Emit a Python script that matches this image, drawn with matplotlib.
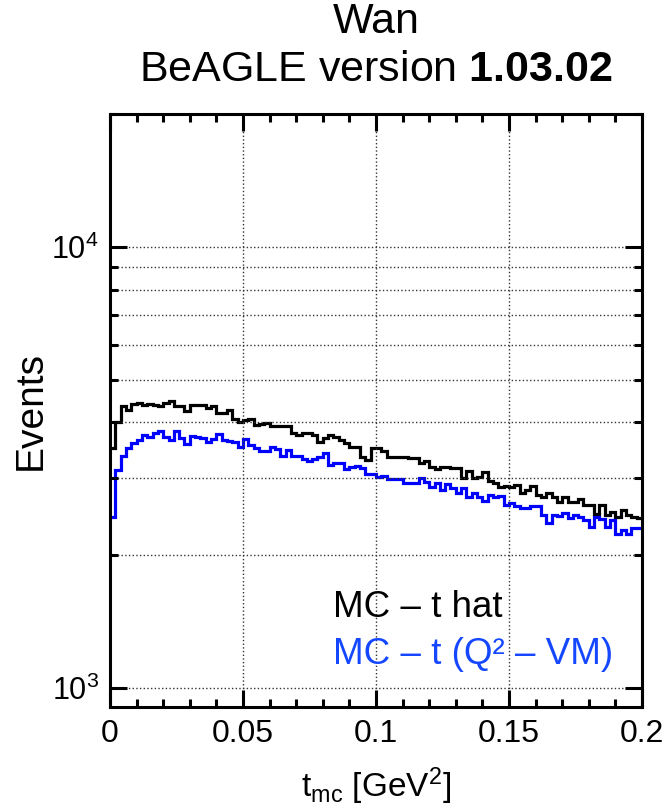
import numpy as np
import matplotlib
matplotlib.use("Agg")
import matplotlib.pyplot as plt
from matplotlib.ticker import FixedLocator, MultipleLocator, FuncFormatter, NullFormatter

plt.rcParams['font.family'] = ['Liberation Sans', 'DejaVu Sans']
plt.rcParams['mathtext.fontset'] = 'custom'
plt.rcParams['mathtext.rm'] = 'Liberation Sans'
plt.rcParams['mathtext.it'] = 'Liberation Sans:italic'
plt.rcParams['mathtext.bf'] = 'Liberation Sans:bold'

# histogram binning: 100 bins in t from 0 to 0.2 GeV^2
t_min, t_max, n_bins = 0.0, 0.2, 100

# MC - t hat (black)
t_hat = [3494, 4018, 4360, 4270, 4406, 4436, 4383, 4406, 4383, 4360,
         4436, 4483, 4360, 4360, 4255, 4383, 4383, 4383, 4307, 4360,
         4210, 4196, 4270, 4067, 4018, 4053, 4067, 3949, 3962, 3982,
         3928, 3928, 3928, 3928, 3781, 3748, 3781, 3781, 3748, 3619,
         3683, 3748, 3715, 3651, 3588, 3525, 3525, 3347, 3289, 3494,
         3494, 3453, 3334, 3347, 3347, 3347, 3317, 3317, 3243, 3271,
         3165, 3132, 3165, 3165, 3148, 3148, 2988, 3110, 2988, 3004,
         3094, 2952, 2911, 2861, 2871, 2851, 2886, 2763, 2812, 2871,
         2739, 2715, 2763, 2715, 2645, 2706, 2645, 2645, 2678, 2600,
         2600, 2480, 2600, 2467, 2511, 2438, 2532, 2467, 2438, 2425]

# MC - t (Q^2 - VM) (blue)
t_q2vm = [2446, 3121, 3358, 3494, 3588, 3651, 3748, 3715, 3781, 3833,
          3715, 3651, 3833, 3683, 3575, 3728, 3702, 3683, 3619, 3664,
          3768, 3651, 3638, 3619, 3525, 3664, 3556, 3494, 3453, 3453,
          3513, 3477, 3358, 3465, 3358, 3358, 3300, 3277, 3300, 3334,
          3417, 3204, 3232, 3243, 3132, 3176, 3187, 3148, 3056, 3056,
          3014, 3025, 2972, 2972, 2972, 2911, 2911, 2911, 2988, 2937,
          2861, 2911, 2812, 2901, 2836, 2763, 2836, 2706, 2763, 2706,
          2659, 2739, 2715, 2725, 2600, 2631, 2586, 2555, 2555, 2586,
          2586, 2467, 2362, 2467, 2455, 2489, 2425, 2467, 2438, 2404,
          2322, 2438, 2413, 2322, 2404, 2234, 2282, 2234, 2301, 2301]

y_major = [1e3, 1e4]
y_minor = [2e3, 3e3, 4e3, 5e3, 6e3, 7e3, 8e3, 9e3, 2e4]

edges = np.linspace(t_min, t_max, n_bins + 1)

fig = plt.figure(figsize=(6.66, 8.08), dpi=100)
ax = fig.add_axes([110 / 666, 101 / 808, 532 / 666, 593 / 808])

ax.stairs(t_hat, edges, baseline=None, color='black', linewidth=2.3)
ax.stairs(t_q2vm, edges, baseline=None, color='#0000ff', linewidth=2.3)

ax.set_yscale('log')
ax.set_xlim(t_min, t_max)
ax.set_ylim(906, 20000)

ax.xaxis.set_major_locator(MultipleLocator(0.05))
ax.xaxis.set_minor_locator(MultipleLocator(0.01))
ax.xaxis.set_major_formatter(FuncFormatter(lambda v, p: ('%g' % round(v, 3))))
ax.yaxis.set_major_locator(FixedLocator(y_major))
ax.yaxis.set_minor_locator(FixedLocator(y_minor))
ax.yaxis.set_major_formatter(FuncFormatter(lambda v, p: r'$10^{%d}$' % round(np.log10(v))))
ax.yaxis.set_minor_formatter(NullFormatter())

ax.tick_params(which='both', direction='in', top=True, right=True, width=2.2, labelsize=22)
ax.tick_params(axis='x', labelsize=23)
ax.tick_params(which='major', length=12)
ax.tick_params(which='minor', length=6)
ax.tick_params(axis='x', which='major', pad=9)
ax.tick_params(axis='y', which='major', pad=8)
for s in ax.spines.values():
    s.set_linewidth(2.2)

ax.grid(True, axis='x', which='major', linestyle=':', color='#333333', linewidth=1.0)
ax.grid(True, axis='y', which='both', linestyle=':', color='#333333', linewidth=1.0)

fig.text(376 / 666, 1 - 786 / 808, r't$_{\rm mc}$ [GeV$^{2}$]', fontsize=24,
         ha='center', va='center')
fig.text(31 / 666, 1 - 410 / 808, 'Events', fontsize=28, rotation=90,
         ha='center', va='center')

ax.text(0.419, 0.167, 'MC \u2013 t hat', transform=ax.transAxes, fontsize=26.5,
        color='black', va='center', ha='left')
ax.text(0.419, 0.088, 'MC \u2013 t (Q\u00b2 \u2013 VM)', transform=ax.transAxes, fontsize=26.5,
        color='#1447ff', va='center', ha='left')

fig.text(376 / 666, 1 - 22 / 808, 'Wan', fontsize=31, ha='center', va='center')
fig.text(376 / 666, 1 - 70 / 808, r'BeAGLE version $\mathbf{1.03.02}$', fontsize=31,
         ha='center', va='center')

fig.savefig('out.png', dpi=100)
